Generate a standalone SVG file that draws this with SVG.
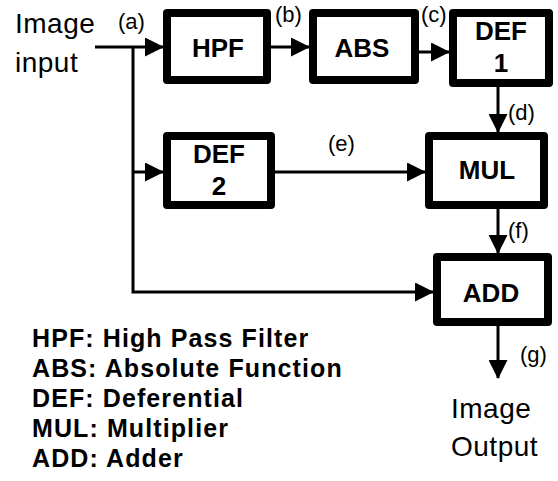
<svg xmlns="http://www.w3.org/2000/svg" width="558" height="481" viewBox="0 0 558 481">
<defs>
<marker id="ah" viewBox="0 0 19 19" refX="18" refY="9.5" markerWidth="19" markerHeight="19" markerUnits="userSpaceOnUse" orient="auto">
<path d="M0,0 L19,9.5 L0,19 z" fill="#000"/>
</marker>
<style>
.box{fill:#fff;stroke:#000;stroke-width:8;stroke-linejoin:round}
.bl{font-family:"Liberation Sans",Arial,sans-serif;font-weight:bold;font-size:26px;text-anchor:middle}
.t{font-family:"Liberation Sans",Arial,sans-serif;font-size:28px;letter-spacing:0.5px}
.lb{font-family:"Liberation Sans",Arial,sans-serif;font-size:22px}
.lg{font-family:"Liberation Sans",Arial,sans-serif;font-weight:bold;font-size:25px;letter-spacing:1.1px}
.ln{fill:none;stroke:#000;stroke-width:3}
</style>
</defs>
<rect width="558" height="481" fill="#fff"/>
<g id="connectors">
<path class="ln" d="M95,47 H163" marker-end="url(#ah)"/>
<path class="ln" d="M133,47 V292 H433" marker-end="url(#ah)"/>
<path class="ln" d="M133,172 H163" marker-end="url(#ah)"/>
<path class="ln" d="M271,47 H309" marker-end="url(#ah)"/>
<path class="ln" d="M419,52 H449" marker-end="url(#ah)"/>
<path class="ln" d="M498,87 V132" marker-end="url(#ah)"/>
<path class="ln" d="M275,172 H425" marker-end="url(#ah)"/>
<path class="ln" d="M498,209 V253" marker-end="url(#ah)"/>
<path class="ln" d="M498,326 V378" marker-end="url(#ah)"/>
</g>
<g id="HPF"><rect class="box" x="167" y="13" width="100" height="67"/><text class="bl" x="218" y="57">HPF</text></g>
<g id="ABS"><rect class="box" x="313" y="13" width="102" height="67"/><text class="bl" x="362" y="57">ABS</text></g>
<g id="DEF1"><rect class="box" x="453" y="13" width="96" height="70"/><text class="bl" x="501" y="40">DEF</text><text class="bl" x="501" y="72">1</text></g>
<g id="DEF2"><rect class="box" x="167" y="136" width="104" height="69"/><text class="bl" x="219" y="163">DEF</text><text class="bl" x="219" y="195">2</text></g>
<g id="MUL"><rect class="box" x="429" y="136" width="115" height="69"/><text class="bl" x="487" y="179">MUL</text></g>
<g id="ADD"><rect class="box" x="437" y="257" width="111" height="65"/><text class="bl" x="491" y="302">ADD</text></g>
<g id="labels">
<text class="t" x="15" y="33">Image</text>
<text class="t" x="15" y="72">input</text>
<text class="lb" x="118" y="29">(a)</text>
<text class="lb" x="275" y="22">(b)</text>
<text class="lb" x="421" y="22">(c)</text>
<text class="lb" x="508" y="120">(d)</text>
<text class="lb" x="328" y="151">(e)</text>
<text class="lb" x="508" y="238">(f)</text>
<text class="lb" x="520" y="362">(g)</text>
<text class="t" x="451" y="418">Image</text>
<text class="t" x="451" y="456">Output</text>
</g>
<g id="legend">
<text class="lg" x="32" y="347">HPF: High Pass Filter</text>
<text class="lg" x="32" y="377">ABS: Absolute Function</text>
<text class="lg" x="32" y="407">DEF: Deferential</text>
<text class="lg" x="32" y="437">MUL: Multiplier</text>
<text class="lg" x="32" y="467">ADD: Adder</text>
</g>
</svg>
